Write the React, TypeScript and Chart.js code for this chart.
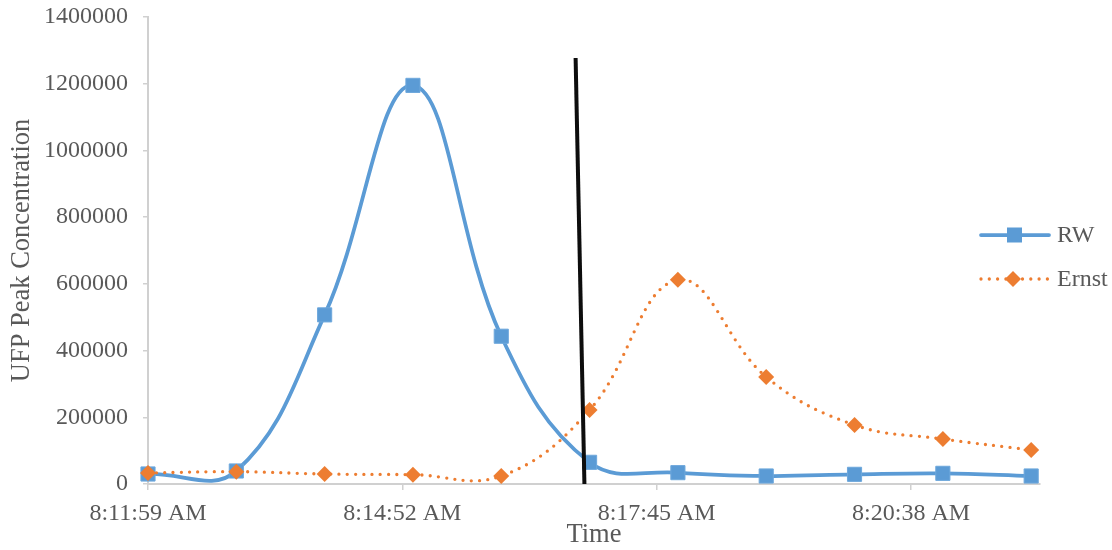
import React, { useEffect, useRef } from "react";
import { Chart, registerables } from "chart.js";

Chart.register(...registerables);

// Sample times (one reading per minute)
const sampleTimes = [
  "8:11:59 AM", "8:12:59 AM", "8:13:59 AM", "8:14:59 AM", "8:15:59 AM", "8:16:59 AM",
  "8:17:59 AM", "8:18:59 AM", "8:19:59 AM", "8:20:59 AM", "8:21:59 AM",
];

// UFP peak concentrations per site
const rwValues = [30000, 39000, 507000, 1195000, 443000, 65000, 34000, 24000, 29000, 32000, 24000];
const ernstValues = [33000, 37000, 30000, 28000, 24000, 222000, 612000, 321000, 177000, 135000, 102000];

// Event marker line (time offsets in seconds from the first sample, concentration)
const eventLineSeconds = [290.5, 296.5];
const eventLineValues = [1277000, 0];

// Time axis: labelled every 0.002 day (172.8 s)
const timeTickLabels = ["8:11:59 AM", "8:14:52 AM", "8:17:45 AM", "8:20:38 AM"];
const timeTickStep = 172.8;
const timeAxisMax = 606;

// Concentration axis
const yTickMin = 0;
const yTickMax = 1400000;
const yTickStep = 200000;

const TEXT = "#595959";
const AXIS = "#d0d0d0";
const BLUE = "#5B9BD5";
const ORANGE = "#ED7D31";
const FONT = "'Liberation Serif', 'Times New Roman', serif";

function toSeconds(t: string): number {
  const [clock, ampm] = t.split(" ");
  const [h, m, s] = clock.split(":").map(Number);
  const hh = (h % 12) + (ampm === "PM" ? 12 : 0);
  return hh * 3600 + m * 60 + s;
}

const t0 = toSeconds(sampleTimes[0]);
const xs = sampleTimes.map((t) => toSeconds(t) - t0);

const legendPlugin = {
  id: "sideLegend",
  afterDraw(chart: any) {
    const ctx = chart.ctx as CanvasRenderingContext2D;
    const entries = [
      { label: "RW", y: 235, color: BLUE, dotted: false, marker: "square" },
      { label: "Ernst", y: 279, color: ORANGE, dotted: true, marker: "diamond" },
    ];
    ctx.save();
    for (const e of entries) {
      ctx.strokeStyle = e.color;
      ctx.lineWidth = e.dotted ? 3.3 : 3.75;
      ctx.lineCap = "round";
      ctx.setLineDash(e.dotted ? [0, 8.3] : []);
      ctx.beginPath();
      ctx.moveTo(981, e.y);
      ctx.lineTo(1049, e.y);
      ctx.stroke();
      ctx.setLineDash([]);
      ctx.fillStyle = e.color;
      if (e.marker === "square") {
        ctx.fillRect(1007, e.y - 7.5, 15, 15);
      } else {
        ctx.beginPath();
        ctx.moveTo(1013, e.y - 8);
        ctx.lineTo(1021, e.y);
        ctx.lineTo(1013, e.y + 8);
        ctx.lineTo(1005, e.y);
        ctx.closePath();
        ctx.fill();
      }
      ctx.fillStyle = TEXT;
      ctx.font = `24px ${FONT}`;
      ctx.textAlign = "left";
      ctx.textBaseline = "middle";
      ctx.fillText(e.label, 1057, e.y + 1);
    }
    ctx.restore();
  },
};

export default function App() {
  const canvasRef = useRef<HTMLCanvasElement | null>(null);

  useEffect(() => {
    document.body.style.margin = "0";
    const canvas = canvasRef.current;
    if (!canvas) return;

    const chart = new Chart(canvas, {
      type: "line",
      data: {
        datasets: [
          {
            label: "RW",
            data: xs.map((x, i) => ({ x, y: rwValues[i] })),
            borderColor: BLUE,
            backgroundColor: BLUE,
            borderWidth: 3.75,
            tension: 0.4,
            pointStyle: "rect",
            pointRadius: 10,
            pointBorderWidth: 1,
            pointBorderColor: "#6ea8dc",
            pointBackgroundColor: BLUE,
            clip: false,
            order: 2,
          },
          {
            label: "Ernst",
            data: xs.map((x, i) => ({ x, y: ernstValues[i] })),
            borderColor: ORANGE,
            backgroundColor: ORANGE,
            borderWidth: 3.3,
            borderDash: [0, 8.3],
            borderCapStyle: "round",
            tension: 0.4,
            pointStyle: "rectRot",
            pointRadius: 8,
            pointBorderWidth: 0,
            pointBackgroundColor: ORANGE,
            clip: false,
            order: 1,
          },
          {
            label: "Event",
            data: eventLineSeconds.map((x, i) => ({ x, y: eventLineValues[i] })),
            borderColor: "#0d0d0d",
            borderWidth: 4,
            tension: 0,
            pointRadius: 0,
            clip: false,
            order: 0,
          },
        ],
      },
      options: {
        animation: false,
        responsive: false,
        maintainAspectRatio: false,
        layout: { padding: { top: 17, left: 0, right: 72, bottom: 0 } },
        elements: { line: { capBezierPoints: false } },
        plugins: {
          legend: { display: false },
          tooltip: { enabled: false },
        },
        scales: {
          x: {
            type: "linear",
            min: 0,
            max: timeAxisMax,
            afterBuildTicks: (scale: any) => {
              scale.ticks = timeTickLabels.map((_, i) => ({ value: i * timeTickStep }));
            },
            afterFit: (scale: any) => {
              scale.height = 66;
            },
            ticks: {
              autoSkip: false,
              maxRotation: 0,
              minRotation: 0,
              padding: 9,
              color: TEXT,
              font: { family: FONT, size: 24 },
              callback: (_v: any, i: number) => timeTickLabels[i],
            },
            grid: {
              drawOnChartArea: false,
              drawTicks: true,
              tickLength: 6,
              color: AXIS,
              tickColor: AXIS,
              lineWidth: 1.5,
            },
            border: { display: true, color: AXIS, width: 2 },
            title: {
              display: true,
              text: "Time",
              color: TEXT,
              font: { family: FONT, size: 26.5, lineHeight: 1 },
              padding: { top: 0, bottom: 1.5 },
            },
          },
          y: {
            min: yTickMin,
            max: yTickMax,
            afterFit: (scale: any) => {
              scale.width = 148;
              scale.paddingTop = 0;
              scale.paddingBottom = 0;
            },
            ticks: {
              stepSize: yTickStep,
              padding: 15,
              color: TEXT,
              font: { family: FONT, size: 24 },
              callback: (v: any) => String(v),
            },
            grid: {
              drawOnChartArea: false,
              drawTicks: true,
              tickLength: 5,
              color: AXIS,
              tickColor: AXIS,
              lineWidth: 1.5,
            },
            border: { display: true, color: AXIS, width: 2 },
            title: {
              display: true,
              text: "UFP Peak Concentration",
              color: TEXT,
              font: { family: FONT, size: 26.5, lineHeight: 1 },
              padding: { top: 8.5, bottom: 0 },
            },
          },
        },
      },
      plugins: [legendPlugin],
    } as any);

    return () => chart.destroy();
  }, []);

  return (
    <div style={{ width: 1112, height: 550, background: "#fff" }}>
      <canvas ref={canvasRef} width={1112} height={550} />
    </div>
  );
}
